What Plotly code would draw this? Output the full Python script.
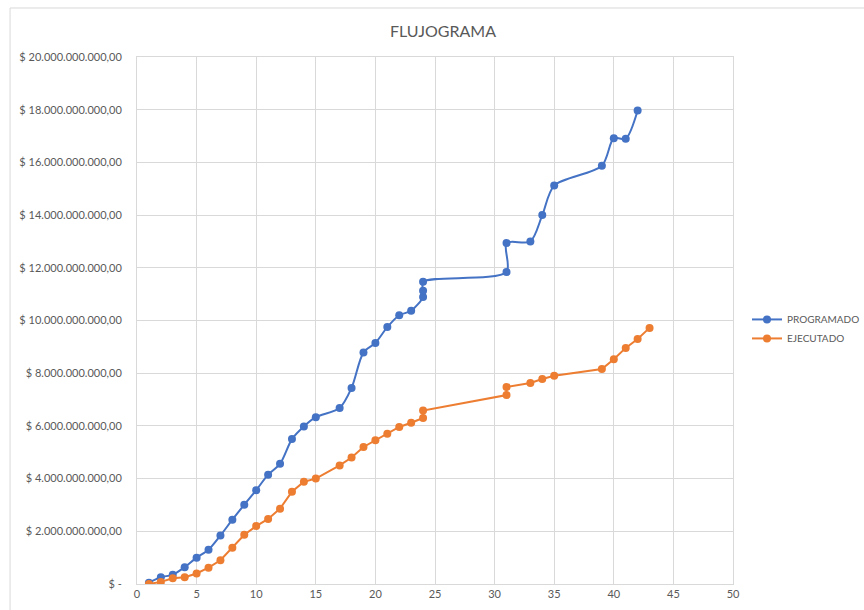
import plotly.graph_objects as go

title = "FLUJOGRAMA"

prog_x = [1, 2, 3, 4, 5, 6, 7, 8, 9, 10, 11, 12, 13, 14, 15, 17, 18, 19, 20, 21, 22, 23,
          24, 24, 24, 31, 31, 33, 34, 35, 39, 40, 41, 42]
prog_y = [0.05, 0.26, 0.35, 0.64, 1.0, 1.3, 1.84, 2.44, 3.01, 3.56, 4.15, 4.56, 5.5, 5.98,
          6.33, 6.68, 7.44, 8.79, 9.15, 9.75, 10.2, 10.37, 10.89, 11.13, 11.47, 11.84,
          12.94, 13.0, 14.0, 15.12, 15.87, 16.92, 16.9, 17.97]
prog_y = [v * 1e9 for v in prog_y]

ejec_x = [1, 2, 3, 4, 5, 6, 7, 8, 9, 10, 11, 12, 13, 14, 15, 17, 18, 19, 20, 21, 22, 23,
          24, 24, 31, 31, 33, 34, 35, 39, 40, 41, 42, 43]
ejec_y = [0.0, 0.08, 0.22, 0.26, 0.4, 0.62, 0.9, 1.38, 1.87, 2.2, 2.47, 2.86, 3.5, 3.88,
          4.0, 4.5, 4.8, 5.2, 5.46, 5.7, 5.96, 6.12, 6.3, 6.58, 7.17, 7.48, 7.63, 7.78,
          7.9, 8.16, 8.53, 8.96, 9.3, 9.72]
ejec_y = [v * 1e9 for v in ejec_y]

y_tickvals = [i * 2e9 for i in range(11)]
y_ticktext = ["$ -", "$ 2.000.000.000,00", "$ 4.000.000.000,00", "$ 6.000.000.000,00",
              "$ 8.000.000.000,00", "$ 10.000.000.000,00", "$ 12.000.000.000,00",
              "$ 14.000.000.000,00", "$ 16.000.000.000,00", "$ 18.000.000.000,00",
              "$ 20.000.000.000,00"]
x_tickvals = [0, 5, 10, 15, 20, 25, 30, 35, 40, 45, 50]

FONT = "Lato, 'Open Sans', sans-serif"
GRID = "#d9d9d9"
TXT = "#595959"

fig = go.Figure()
fig.add_trace(go.Scatter(
    x=prog_x, y=prog_y, name="PROGRAMADO", mode="lines+markers",
    line=dict(color="#4472C4", width=2, shape="spline", smoothing=0.8),
    marker=dict(color="#4472C4", size=8),
))
fig.add_trace(go.Scatter(
    x=ejec_x, y=ejec_y, name="EJECUTADO", mode="lines+markers",
    line=dict(color="#ED7D31", width=2),
    marker=dict(color="#ED7D31", size=8),
))

fig.update_layout(
    width=864, height=610,
    margin=dict(l=137, r=131, t=57, b=26, autoexpand=False),
    paper_bgcolor="white", plot_bgcolor="white",
    font=dict(family=FONT, size=11, color=TXT),
    title=dict(text=title, x=443 / 864, xanchor="center", y=1 - 31 / 610, yanchor="middle",
               font=dict(family=FONT, size=16, color=TXT)),
    showlegend=True,
    legend=dict(x=1.0235, xanchor="left", y=0.484, yanchor="middle",
                font=dict(family=FONT, size=10, color=TXT),
                bgcolor="rgba(0,0,0,0)", itemwidth=30),
    xaxis=dict(range=[0, 50], tickvals=x_tickvals, showgrid=True, gridcolor=GRID, gridwidth=1,
               zeroline=False, showline=True, linecolor=GRID, linewidth=1, mirror=True,
               ticks="", tickfont=dict(size=11, color=TXT), fixedrange=True),
    yaxis=dict(range=[0, 20e9], tickvals=y_tickvals, ticktext=y_ticktext, showgrid=True,
               gridcolor=GRID, gridwidth=1, zeroline=False, showline=True, linecolor=GRID,
               linewidth=1, mirror=True, ticks="", ticklabelstandoff=12,
               tickfont=dict(size=11, color=TXT), fixedrange=True),
)

# outer chart-area frame (left and top edges visible)
fig.add_shape(type="path", xref="paper", yref="paper",
              path="M -0.213,-0.2 L -0.213,1.093 L 1.3,1.093",
              line=dict(color="#d9d9d9", width=1))

fig.write_html("out.html",
               config={"displayModeBar": False},
               post_script="document.body.style.margin='0';document.body.style.overflow='hidden';")
